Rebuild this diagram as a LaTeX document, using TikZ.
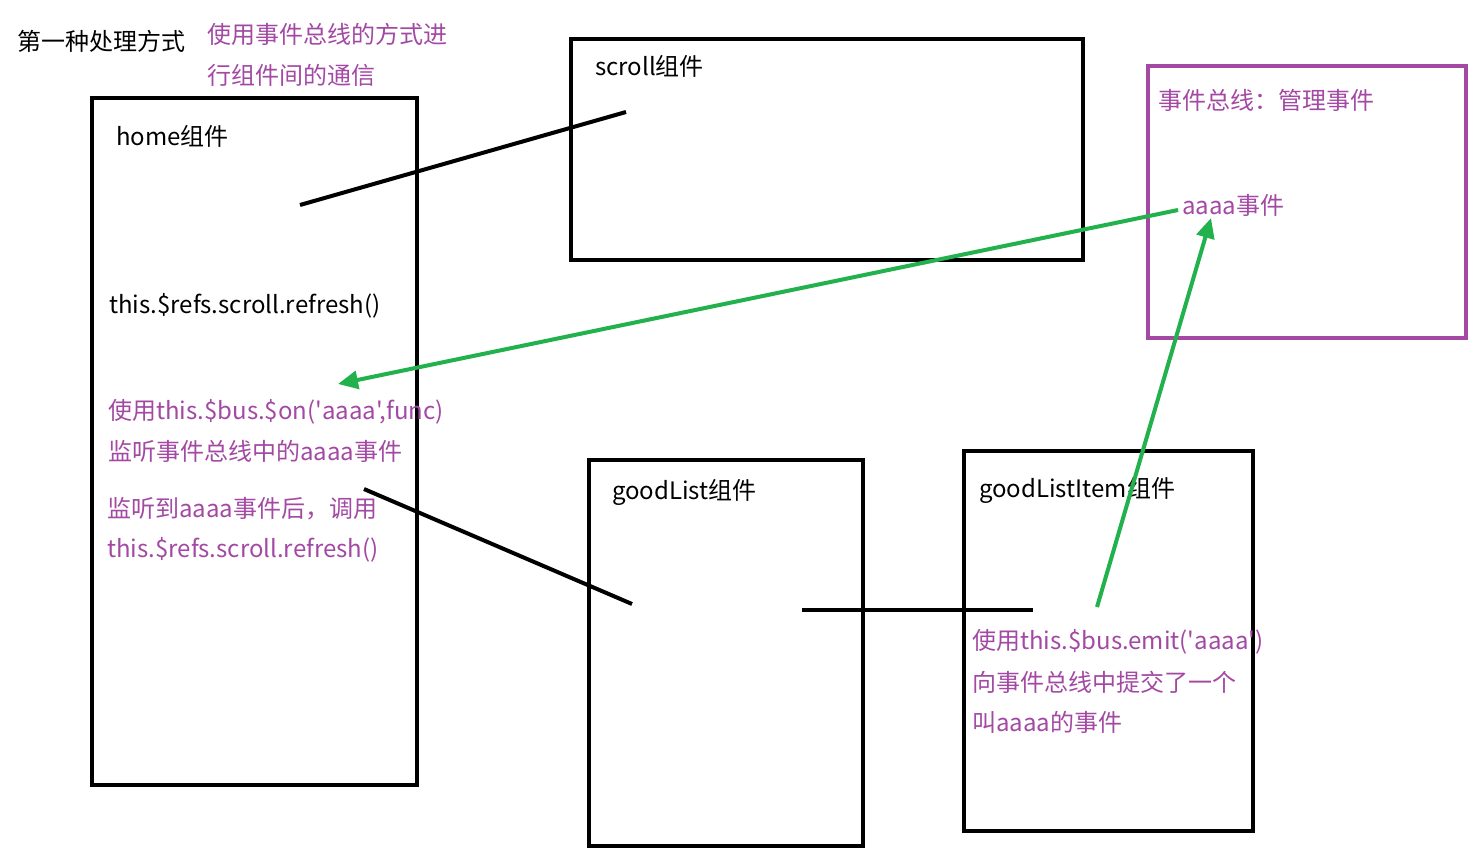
\documentclass[tikz,border=0pt]{standalone}
\usepackage{fontspec}
\setmainfont{Noto Sans CJK SC}[Ligatures=TeXOff]
\usetikzlibrary{arrows.meta}
\definecolor{inkpurple}{HTML}{A349A4}
\definecolor{inkgreen}{HTML}{22B14C}
\tikzset{
  comp/.style={draw=black, line width=4pt, inner sep=0pt},
  busbox/.style={draw=inkpurple, line width=4.5pt, inner sep=0pt},
  lbl/.style={anchor=base west, inner sep=0pt, font=\fontsize{24}{28}\selectfont},
  note/.style={lbl, text=inkpurple},
  wire/.style={black, line width=4pt},
  busarrow/.style={inkgreen, line width=4pt, -{Triangle[length=20pt,width=18pt]}},
}
\begin{document}
\begin{tikzpicture}[x=1pt, y=-1pt]
\useasboundingbox (0,0) rectangle (1480,848);

% component boxes
\node[comp, minimum width=325pt, minimum height=687pt] (home) at (254.5,441.5) {};
\node[comp, minimum width=512pt, minimum height=221pt] (scroll) at (827,149.5) {};
\node[busbox, minimum width=318pt, minimum height=272pt] (bus) at (1307,202) {};
\node[comp, minimum width=274pt, minimum height=386pt] (goodlist) at (726,653) {};
\node[comp, minimum width=289pt, minimum height=380pt] (item) at (1108.5,641) {};

% titles
\node[lbl] (title) at (17,51) {第一种处理方式};
\node[note] (desc1) at (207,44) {使用事件总线的方式进};
\node[note] (desc2) at (207,85) {行组件间的通信};

\node[lbl] (scrollT) at (595,76) {scroll组件};
\node[lbl] (homeT) at (116,146) {home组件};
\node[lbl] (refresh) at (109,313) {this.\$refs.scroll.refresh()};
\node[note] (on1) at (108,419) {使用this.\$bus.\$on('aaaa',func)};
\node[note] (on2) at (108,460) {监听事件总线中的aaaa事件};
\node[note] (got1) at (107,517) {监听到aaaa事件后，调用};
\node[note] (got2) at (107,557) {this.\$refs.scroll.refresh()};

\node[lbl] (glT) at (612,499) {goodList组件};
\node[lbl] (itemT) at (979,497) {goodListItem组件};
\node[note] (emit1) at (972,649) {使用this.\$bus.emit('aaaa')};
\node[note] (emit2) at (972,691) {向事件总线中提交了一个};
\node[note] (emit3) at (972,731) {叫aaaa的事件};

\node[note] (busT) at (1158,110) {事件总线：管理事件};
\node[note] (evt) at (1182,214) {aaaa事件};

% component links
\coordinate (h1) at (300,205);
\coordinate (s1) at (626,112);
\coordinate (h2) at (364,489);
\coordinate (g1) at (632,604);
\coordinate (g2) at (802,610);
\coordinate (i1) at (1033,610);
\draw[wire] (h1) -- (s1);
\draw[wire] (h2) -- (g1);
\draw[wire] (g2) -- (i1);

% event bus traffic
\coordinate (evtL) at (1178,210);
\coordinate (onTip) at (338,384);
\coordinate (emitS) at (1097,607);
\coordinate (evtTip) at (1211,218);
\draw[busarrow] (evtL) -- (onTip);
\draw[busarrow] (emitS) -- (evtTip);
\end{tikzpicture}
\end{document}
